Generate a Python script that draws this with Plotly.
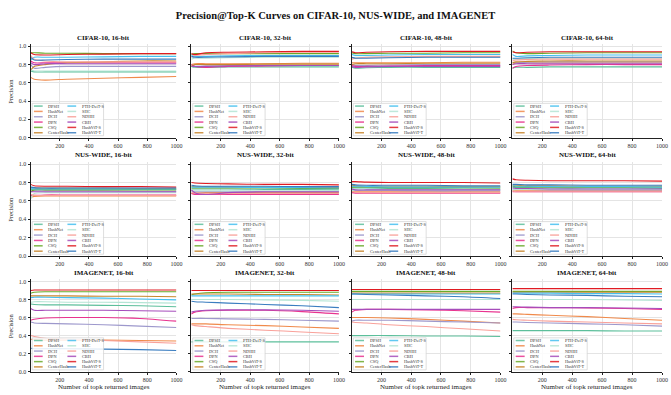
import plotly.graph_objects as go

METHODS = ["DPSH", "HashNet", "DCH", "DPN", "CSQ", "CenterHash",
           "PTH-DeiT-S", "SHC", "NDHH", "CBH", "HashViT-S", "HashViT-T"]
COLORS = ["#5cbf9b", "#f08a4b", "#9d98cc", "#e8338f", "#6aaa2a", "#c8862c",
          "#45c0f0", "#b5e5d5", "#f9a19a", "#a64dbb", "#e01b22", "#3a7dc0"]
TOPK = [1, 25, 100, 250, 500, 750, 1000]
DATASETS = ["CIFAR-10", "NUS-WIDE", "IMAGENET"]
BITS = [16, 32, 48, 64]
X_TICKS = [200, 400, 600, 800, 1000]
Y_TICKS = [0.0, 0.2, 0.4, 0.6, 0.8, 1.0]
Y_TICK_TEXT = ["0.0", "0.2", "0.4", "0.6", "0.8", "1.0"]

cifar10_16 = [
    [0.73, 0.72, 0.72, 0.72, 0.72, 0.72, 0.72],
    [0.66, 0.64, 0.63, 0.64, 0.65, 0.66, 0.67],
    [0.80, 0.76, 0.77, 0.78, 0.78, 0.78, 0.78],
    [0.84, 0.82, 0.82, 0.82, 0.82, 0.82, 0.82],
    [0.93, 0.93, 0.925, 0.925, 0.92, 0.92, 0.92],
    [0.74, 0.78, 0.80, 0.82, 0.83, 0.84, 0.84],
    [0.85, 0.88, 0.88, 0.88, 0.885, 0.89, 0.89],
    [0.74, 0.73, 0.73, 0.73, 0.73, 0.73, 0.73],
    [0.90, 0.86, 0.84, 0.83, 0.83, 0.83, 0.83],
    [0.82, 0.80, 0.81, 0.81, 0.81, 0.81, 0.81],
    [0.93, 0.91, 0.905, 0.91, 0.915, 0.92, 0.92],
    [0.88, 0.85, 0.85, 0.855, 0.86, 0.86, 0.86],
]
cifar10_32 = [
    [0.78, 0.77, 0.77, 0.775, 0.775, 0.775, 0.775],
    [0.80, 0.81, 0.81, 0.81, 0.81, 0.815, 0.815],
    [0.79, 0.78, 0.785, 0.79, 0.79, 0.79, 0.79],
    [0.80, 0.78, 0.77, 0.78, 0.785, 0.79, 0.79],
    [0.91, 0.92, 0.92, 0.92, 0.92, 0.92, 0.92],
    [0.78, 0.80, 0.80, 0.80, 0.805, 0.805, 0.805],
    [0.90, 0.89, 0.89, 0.895, 0.90, 0.90, 0.90],
    [0.86, 0.87, 0.87, 0.875, 0.88, 0.88, 0.88],
    [0.88, 0.90, 0.91, 0.92, 0.93, 0.935, 0.935],
    [0.78, 0.78, 0.78, 0.785, 0.79, 0.79, 0.79],
    [0.92, 0.91, 0.93, 0.935, 0.94, 0.945, 0.945],
    [0.89, 0.88, 0.88, 0.885, 0.89, 0.89, 0.89],
]
cifar10_48 = [
    [0.77, 0.76, 0.765, 0.77, 0.77, 0.77, 0.77],
    [0.82, 0.82, 0.82, 0.82, 0.82, 0.825, 0.825],
    [0.80, 0.79, 0.79, 0.795, 0.80, 0.80, 0.80],
    [0.79, 0.78, 0.78, 0.785, 0.79, 0.79, 0.79],
    [0.93, 0.92, 0.92, 0.925, 0.925, 0.93, 0.93],
    [0.80, 0.81, 0.81, 0.81, 0.815, 0.815, 0.815],
    [0.91, 0.90, 0.90, 0.905, 0.91, 0.91, 0.91],
    [0.87, 0.88, 0.88, 0.88, 0.885, 0.885, 0.885],
    [0.86, 0.87, 0.88, 0.885, 0.89, 0.89, 0.89],
    [0.78, 0.77, 0.775, 0.78, 0.78, 0.78, 0.78],
    [0.94, 0.93, 0.935, 0.94, 0.945, 0.945, 0.945],
    [0.88, 0.87, 0.87, 0.875, 0.88, 0.88, 0.88],
]
cifar10_64 = [
    [0.76, 0.77, 0.77, 0.775, 0.775, 0.775, 0.775],
    [0.80, 0.82, 0.82, 0.82, 0.82, 0.82, 0.82],
    [0.82, 0.82, 0.825, 0.83, 0.83, 0.83, 0.83],
    [0.76, 0.78, 0.79, 0.795, 0.80, 0.80, 0.80],
    [0.95, 0.93, 0.92, 0.925, 0.93, 0.93, 0.93],
    [0.82, 0.83, 0.835, 0.84, 0.84, 0.84, 0.84],
    [0.91, 0.89, 0.895, 0.90, 0.905, 0.905, 0.905],
    [0.86, 0.86, 0.865, 0.87, 0.87, 0.87, 0.87],
    [0.84, 0.85, 0.855, 0.86, 0.86, 0.86, 0.86],
    [0.80, 0.81, 0.81, 0.81, 0.81, 0.81, 0.81],
    [0.94, 0.93, 0.935, 0.94, 0.94, 0.94, 0.94],
    [0.87, 0.87, 0.875, 0.88, 0.88, 0.88, 0.88],
]
nuswide_16 = [
    [0.72, 0.73, 0.73, 0.73, 0.73, 0.725, 0.725],
    [0.64, 0.65, 0.655, 0.655, 0.655, 0.655, 0.655],
    [0.70, 0.71, 0.71, 0.71, 0.71, 0.705, 0.705],
    [0.66, 0.66, 0.665, 0.665, 0.665, 0.665, 0.665],
    [0.70, 0.72, 0.72, 0.72, 0.72, 0.72, 0.72],
    [0.74, 0.74, 0.74, 0.74, 0.74, 0.735, 0.735],
    [0.74, 0.73, 0.73, 0.73, 0.73, 0.73, 0.73],
    [0.62, 0.68, 0.69, 0.69, 0.69, 0.69, 0.69],
    [0.67, 0.66, 0.66, 0.66, 0.66, 0.66, 0.66],
    [0.70, 0.70, 0.70, 0.70, 0.70, 0.70, 0.70],
    [0.78, 0.765, 0.76, 0.76, 0.755, 0.755, 0.75],
    [0.75, 0.745, 0.74, 0.74, 0.74, 0.74, 0.74],
]
nuswide_32 = [
    [0.73, 0.73, 0.73, 0.73, 0.725, 0.725, 0.72],
    [0.68, 0.685, 0.69, 0.69, 0.69, 0.69, 0.69],
    [0.71, 0.70, 0.70, 0.70, 0.70, 0.70, 0.70],
    [0.68, 0.67, 0.67, 0.67, 0.67, 0.67, 0.67],
    [0.74, 0.74, 0.74, 0.74, 0.74, 0.735, 0.735],
    [0.76, 0.755, 0.755, 0.75, 0.75, 0.75, 0.745],
    [0.75, 0.75, 0.75, 0.75, 0.745, 0.745, 0.74],
    [0.70, 0.71, 0.71, 0.71, 0.71, 0.71, 0.71],
    [0.69, 0.685, 0.68, 0.68, 0.68, 0.68, 0.68],
    [0.72, 0.69, 0.67, 0.69, 0.70, 0.70, 0.70],
    [0.80, 0.795, 0.79, 0.785, 0.78, 0.78, 0.775],
    [0.77, 0.765, 0.76, 0.76, 0.76, 0.755, 0.755],
]
nuswide_48 = [
    [0.74, 0.74, 0.74, 0.735, 0.735, 0.73, 0.73],
    [0.70, 0.70, 0.70, 0.70, 0.70, 0.70, 0.70],
    [0.72, 0.715, 0.715, 0.715, 0.71, 0.71, 0.71],
    [0.69, 0.685, 0.685, 0.685, 0.685, 0.685, 0.685],
    [0.75, 0.75, 0.75, 0.745, 0.745, 0.745, 0.74],
    [0.77, 0.765, 0.76, 0.76, 0.76, 0.755, 0.755],
    [0.76, 0.755, 0.755, 0.75, 0.75, 0.75, 0.75],
    [0.71, 0.72, 0.72, 0.72, 0.72, 0.72, 0.72],
    [0.70, 0.695, 0.69, 0.69, 0.69, 0.69, 0.69],
    [0.73, 0.72, 0.72, 0.72, 0.72, 0.72, 0.72],
    [0.81, 0.81, 0.805, 0.80, 0.80, 0.80, 0.795],
    [0.78, 0.775, 0.77, 0.77, 0.77, 0.765, 0.765],
]
nuswide_64 = [
    [0.75, 0.745, 0.745, 0.74, 0.74, 0.74, 0.735],
    [0.71, 0.71, 0.71, 0.71, 0.71, 0.71, 0.71],
    [0.73, 0.725, 0.725, 0.72, 0.72, 0.72, 0.72],
    [0.70, 0.70, 0.70, 0.70, 0.70, 0.70, 0.70],
    [0.76, 0.755, 0.755, 0.75, 0.75, 0.75, 0.75],
    [0.77, 0.77, 0.765, 0.765, 0.76, 0.76, 0.76],
    [0.765, 0.76, 0.76, 0.755, 0.755, 0.755, 0.75],
    [0.72, 0.725, 0.725, 0.725, 0.725, 0.725, 0.725],
    [0.71, 0.70, 0.70, 0.70, 0.70, 0.70, 0.70],
    [0.74, 0.735, 0.735, 0.73, 0.73, 0.73, 0.73],
    [0.84, 0.83, 0.825, 0.82, 0.82, 0.82, 0.815],
    [0.78, 0.78, 0.775, 0.775, 0.77, 0.77, 0.77],
]
imagenet_16 = [
    [0.75, 0.745, 0.74, 0.74, 0.735, 0.73, 0.72],
    [0.36, 0.355, 0.35, 0.35, 0.35, 0.345, 0.34],
    [0.55, 0.54, 0.535, 0.53, 0.52, 0.505, 0.49],
    [0.57, 0.58, 0.595, 0.60, 0.60, 0.59, 0.56],
    [0.87, 0.88, 0.885, 0.885, 0.885, 0.885, 0.885],
    [0.84, 0.84, 0.84, 0.84, 0.835, 0.835, 0.83],
    [0.82, 0.825, 0.825, 0.82, 0.815, 0.805, 0.795],
    [0.77, 0.775, 0.775, 0.77, 0.77, 0.765, 0.76],
    [0.40, 0.39, 0.37, 0.36, 0.345, 0.33, 0.315],
    [0.70, 0.68, 0.68, 0.68, 0.68, 0.675, 0.67],
    [0.90, 0.905, 0.905, 0.905, 0.905, 0.905, 0.905],
    [0.26, 0.255, 0.255, 0.255, 0.25, 0.245, 0.235],
]
imagenet_32 = [
    [0.33, 0.33, 0.33, 0.33, 0.33, 0.33, 0.33],
    [0.53, 0.53, 0.53, 0.52, 0.51, 0.495, 0.48],
    [0.59, 0.59, 0.59, 0.585, 0.58, 0.57, 0.56],
    [0.64, 0.66, 0.675, 0.68, 0.68, 0.665, 0.64],
    [0.85, 0.86, 0.875, 0.88, 0.88, 0.88, 0.88],
    [0.86, 0.86, 0.86, 0.86, 0.855, 0.855, 0.85],
    [0.84, 0.84, 0.84, 0.84, 0.84, 0.84, 0.84],
    [0.80, 0.80, 0.80, 0.80, 0.795, 0.79, 0.78],
    [0.52, 0.51, 0.50, 0.48, 0.46, 0.44, 0.42],
    [0.66, 0.67, 0.68, 0.685, 0.685, 0.68, 0.67],
    [0.90, 0.90, 0.90, 0.90, 0.90, 0.90, 0.90],
    [0.78, 0.775, 0.77, 0.76, 0.745, 0.73, 0.71],
]
imagenet_48 = [
    [0.40, 0.40, 0.40, 0.40, 0.395, 0.395, 0.39],
    [0.60, 0.60, 0.60, 0.595, 0.58, 0.56, 0.54],
    [0.56, 0.57, 0.57, 0.57, 0.56, 0.55, 0.54],
    [0.66, 0.68, 0.69, 0.69, 0.685, 0.675, 0.66],
    [0.89, 0.89, 0.89, 0.89, 0.89, 0.89, 0.89],
    [0.87, 0.87, 0.87, 0.87, 0.87, 0.87, 0.87],
    [0.86, 0.86, 0.86, 0.86, 0.86, 0.86, 0.86],
    [0.80, 0.80, 0.80, 0.80, 0.80, 0.80, 0.80],
    [0.55, 0.545, 0.54, 0.52, 0.50, 0.475, 0.45],
    [0.69, 0.69, 0.69, 0.69, 0.69, 0.69, 0.69],
    [0.91, 0.91, 0.91, 0.91, 0.91, 0.91, 0.91],
    [0.86, 0.86, 0.855, 0.85, 0.84, 0.83, 0.81],
]
imagenet_64 = [
    [0.455, 0.455, 0.455, 0.455, 0.455, 0.45, 0.45],
    [0.64, 0.64, 0.635, 0.625, 0.61, 0.59, 0.57],
    [0.55, 0.55, 0.545, 0.54, 0.53, 0.52, 0.505],
    [0.70, 0.71, 0.71, 0.71, 0.705, 0.70, 0.69],
    [0.89, 0.89, 0.89, 0.89, 0.89, 0.89, 0.89],
    [0.88, 0.88, 0.88, 0.88, 0.88, 0.88, 0.88],
    [0.87, 0.87, 0.87, 0.87, 0.865, 0.865, 0.86],
    [0.80, 0.80, 0.80, 0.80, 0.80, 0.795, 0.79],
    [0.58, 0.575, 0.57, 0.56, 0.55, 0.54, 0.53],
    [0.72, 0.72, 0.715, 0.71, 0.71, 0.705, 0.70],
    [0.92, 0.92, 0.92, 0.92, 0.92, 0.92, 0.92],
    [0.86, 0.86, 0.855, 0.85, 0.845, 0.835, 0.83],
]

PANELS = [
    [cifar10_16, cifar10_32, cifar10_48, cifar10_64],
    [nuswide_16, nuswide_32, nuswide_48, nuswide_64],
    [imagenet_16, imagenet_32, imagenet_48, imagenet_64],
]

W, H = 671, 395
FONT = "Liberation Serif"
COL_PX = [(31, 178), (193, 342), (355, 505), (517, 668)]
ROW_PX = [(43.5, 138), (162.5, 257.7), (281, 374.5)]

fig = go.Figure()
layout = dict(
    width=W, height=H, margin=dict(l=0, r=0, t=0, b=0),
    paper_bgcolor="white", plot_bgcolor="white",
    font=dict(family=FONT, color="#222"),
    showlegend=False,
    title=dict(text="<b>Precision@Top-K Curves on CIFAR-10, NUS-WIDE, and IMAGENET</b>",
               x=0.5, xanchor="center", y=1 - 15 / H, yanchor="middle", yref="container",
               font=dict(family=FONT, size=10.5, color="#111")),
)
annotations = []
shapes = []

for r in range(3):
    for c in range(4):
        idx = r * 4 + c + 1
        sfx = "" if idx == 1 else str(idx)
        xa, ya = "x" + sfx, "y" + sfx
        x0, x1 = COL_PX[c]
        top, bot = ROW_PX[r]
        layout["xaxis" + sfx] = dict(
            domain=[x0 / W, x1 / W], anchor=ya, range=[1, 1000],
            tickvals=X_TICKS, showgrid=True, gridcolor="#e4e4e4", gridwidth=1,
            showline=True, linecolor="#222", linewidth=1.4, ticks="outside",
            ticklen=2, tickwidth=0.8, tickcolor="#222",
            tickfont=dict(family=FONT, size=6, color="#333"), zeroline=False)
        layout["yaxis" + sfx] = dict(
            domain=[1 - bot / H, 1 - top / H], anchor=xa, range=[0, 1.025],
            tickvals=Y_TICKS, ticktext=Y_TICK_TEXT, showticklabels=(c == 0),
            showgrid=True, gridcolor="#e4e4e4", gridwidth=1,
            showline=True, linecolor="#222", linewidth=1.4, ticks="outside",
            ticklen=2, tickwidth=0.8, tickcolor="#222",
            tickfont=dict(family=FONT, size=6, color="#333"), zeroline=False)
        data = PANELS[r][c]
        for m, name in enumerate(METHODS):
            fig.add_trace(go.Scatter(
                x=TOPK, y=data[m], mode="lines", name=name,
                line=dict(color=COLORS[m], width=1.1, shape="spline", smoothing=0.6),
                xaxis=xa, yaxis=ya, showlegend=False, hoverinfo="skip"))
        # subplot title
        annotations.append(dict(
            text="<b>%s, %d-bit</b>" % (DATASETS[r], BITS[c]), xref="paper", yref="paper",
            x=(x0 + x1) / 2 / W, y=1 - (top - 6.5) / H, xanchor="center", yanchor="middle",
            showarrow=False, font=dict(family=FONT, size=7, color="#111")))
        # legend box
        xd, yd = xa + " domain", ya + " domain"
        shapes.append(dict(type="rect", xref=xd, yref=yd, x0=0.01, x1=0.5, y0=0.02, y1=0.366,
                           line=dict(color="#d0d0d0", width=0.7),
                           fillcolor="rgba(255,255,255,0.85)", layer="above"))
        for m, name in enumerate(METHODS):
            col, row = divmod(m, 6)
            lx = 0.022 + col * 0.23
            ly = 0.337 - row * 0.057
            shapes.append(dict(type="line", xref=xd, yref=yd, x0=lx, x1=lx + 0.06,
                               y0=ly, y1=ly, line=dict(color=COLORS[m], width=1.5),
                               opacity=0.85, layer="above"))
            annotations.append(dict(
                text=name, xref=xd, yref=yd, x=lx + 0.084, y=ly, xanchor="left",
                yanchor="middle", showarrow=False,
                font=dict(family=FONT, size=4.3, color="#333")))
    # y-axis title per row
    top, bot = ROW_PX[r]
    annotations.append(dict(
        text="Precision", xref="paper", yref="paper", x=11 / W, y=1 - (top + bot) / 2 / H,
        xanchor="center", yanchor="middle", textangle=-90, showarrow=False,
        font=dict(family=FONT, size=6.5, color="#222")))

for c in range(4):
    x0, x1 = COL_PX[c]
    annotations.append(dict(
        text="Number of topk returned images", xref="paper", yref="paper",
        x=(x0 + x1) / 2 / W, y=1 - 389.5 / H, xanchor="center", yanchor="middle",
        showarrow=False, font=dict(family=FONT, size=7, color="#222")))

layout["annotations"] = annotations
layout["shapes"] = shapes
fig.update_layout(**layout)
fig.write_html("out.html", config={"displayModeBar": False},
               post_script="document.body.style.margin='0px';document.body.style.overflow='hidden';")
